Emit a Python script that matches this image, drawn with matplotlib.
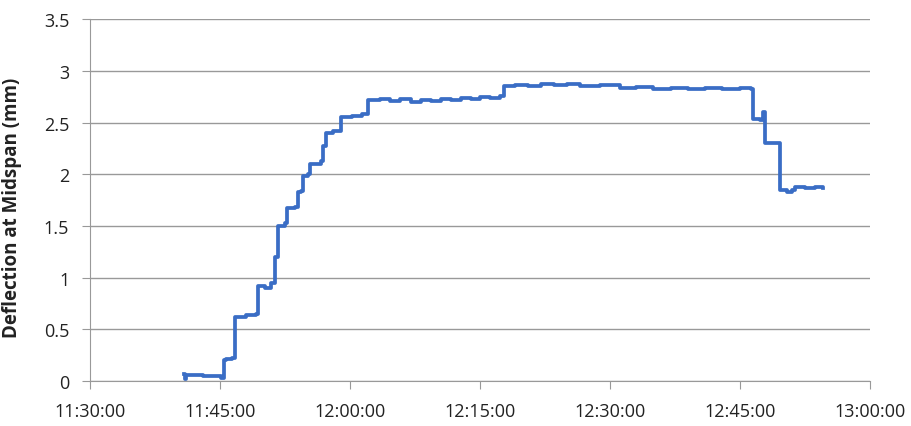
import matplotlib.pyplot as plt
import matplotlib.dates as mdates
import pandas as pd

# readings taken off the logger trace (time, deflection in mm)
times = [
    "11:40:50", "11:40:56", "11:41:08", "11:43:00", "11:45:10",
    "11:45:25", "11:45:41", "11:46:23", "11:46:44", "11:48:00", "11:49:09",
    "11:49:23", "11:50:10", "11:50:53", "11:51:21", "11:51:41", "11:52:30",
    "11:52:44", "11:53:39", "11:54:00", "11:54:21", "11:54:35", "11:55:09",
    "11:55:23", "11:56:39", "11:56:53", "11:57:14", "11:58:00", "11:58:44",
    "11:58:58", "12:00:12", "12:01:23", "12:02:04", "12:03:28", "12:04:40",
    "12:05:50", "12:07:00", "12:08:10", "12:09:20", "12:10:30", "12:11:40",
    "12:12:50", "12:14:00", "12:15:00", "12:16:10", "12:17:18", "12:17:46",
    "12:19:00", "12:20:30", "12:22:00", "12:23:30", "12:25:00", "12:26:30",
    "12:28:51", "12:31:10", "12:33:00", "12:35:00", "12:37:00", "12:39:00",
    "12:41:00", "12:43:00", "12:45:00", "12:46:16", "12:46:30", "12:47:20",
    "12:47:32", "12:47:40", "12:47:53", "12:49:16", "12:49:37", "12:50:25",
    "12:51:00", "12:51:20", "12:52:30", "12:53:40", "12:54:34",
]
deflection = [
    0.07, 0.02, 0.06, 0.05, 0.03,
    0.20, 0.21, 0.22, 0.62, 0.64, 0.65,
    0.92, 0.90, 0.95, 1.20, 1.50, 1.53,
    1.67, 1.68, 1.83, 1.84, 1.98, 2.00,
    2.10, 2.13, 2.27, 2.40, 2.42, 2.42,
    2.55, 2.56, 2.58, 2.72, 2.73, 2.71,
    2.73, 2.70, 2.72, 2.71, 2.73, 2.72,
    2.74, 2.73, 2.75, 2.74, 2.76, 2.85,
    2.86, 2.85, 2.87, 2.86, 2.87, 2.85,
    2.86, 2.83, 2.84, 2.82, 2.83, 2.82,
    2.83, 2.82, 2.83, 2.82, 2.53, 2.52,
    2.52, 2.60, 2.30, 2.30, 1.85, 1.83,
    1.85, 1.88, 1.87, 1.88, 1.87,
]
y_ticks = [0, 0.5, 1, 1.5, 2, 2.5, 3, 3.5]
y_labels = ["0", "0.5", "1", "1.5", "2", "2.5", "3", "3.5"]

t = pd.to_datetime(["2000-01-01 " + s for s in times])

fig = plt.figure(figsize=(9.12, 4.27), dpi=100)
ax = fig.add_axes([0.0987, 0.105, 0.855, 0.848])

ax.plot(t, deflection, color="#3a6dc5", lw=2.7, drawstyle="steps-post", solid_joinstyle="round")

ax.set_xlim(pd.Timestamp("2000-01-01 11:30:00"), pd.Timestamp("2000-01-01 13:00:00"))
ax.set_ylim(0, 3.5)
ax.xaxis.set_major_locator(mdates.MinuteLocator(byminute=[0, 15, 30, 45]))
ax.xaxis.set_major_formatter(mdates.DateFormatter("%H:%M:%S"))
ax.set_yticks(y_ticks)
ax.set_yticklabels(y_labels)

ax.grid(axis="y", color="#999999", lw=1)
ax.set_axisbelow(True)
for s in ["top", "right"]:
    ax.spines[s].set_visible(False)
for s in ["left", "bottom"]:
    ax.spines[s].set_color("#999999")
ax.tick_params(colors="#999999", length=6, labelcolor="#222222", labelsize=13)
ax.tick_params(axis="y", pad=9)
ax.tick_params(axis="x", pad=9)
for lbl in ax.get_xticklabels() + ax.get_yticklabels():
    lbl.set_family("Open Sans")

ax.set_ylabel("Deflection at Midspan (mm)", fontsize=13.5, fontweight="bold",
              family="Open Sans", color="#222222", labelpad=5)
ax.yaxis.set_label_coords(-0.087, 0.48)

fig.savefig("out.png", dpi=100)
